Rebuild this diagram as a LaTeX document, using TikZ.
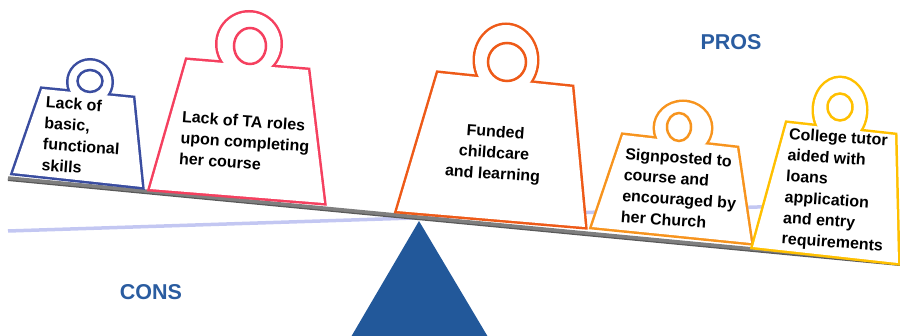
\documentclass[tikz,border=0pt]{standalone}
\usepackage{fontspec}
\setmainfont{Liberation Sans}
\definecolor{cA}{HTML}{3A4DA0}
\definecolor{cB}{HTML}{F5405F}
\definecolor{cC}{HTML}{EE5A18}
\definecolor{cD}{HTML}{F7941E}
\definecolor{cE}{HTML}{FFC000}
\definecolor{labelblue}{HTML}{2A5CA0}
\definecolor{tricol}{HTML}{22589A}
\definecolor{lav}{HTML}{C3C7F2}
\definecolor{beamgray}{HTML}{7F7F7F}
\begin{document}
\begin{tikzpicture}[x=1pt,y=-1pt,
  wbody/.style={line width=5pt, draw=#1, line join=miter},
  whole/.style={line width=2.5pt, draw=#1},
  wtext/.style={font=\bfseries\fontsize{16}{21}\selectfont, align=left, rotate=-4, inner sep=0pt},
  sidelabel/.style={font=\bfseries\fontsize{21.5}{24}\selectfont, text=labelblue, inner sep=0pt}]
\useasboundingbox (0,0) rectangle (900,336);
% faded level beam
\coordinate (ll) at (8,231);
\coordinate (lr) at (820,205);
\draw[lav, line width=3.5pt] (ll) -- (lr);
% fulcrum
\coordinate (apex) at (419,221);
\coordinate (bl) at (351,337);
\coordinate (br) at (488,337);
\fill[tricol] (apex) -- (bl) -- (br) -- cycle;
% tilted beam
\coordinate (bml) at (8,178);
\coordinate (bmr) at (900,263);
\draw[beamgray!70!black, line width=4pt] ([yshift=-1pt]bml) -- ([yshift=-1pt]bmr);
\draw[beamgray, line width=3.5pt] (bml) -- (bmr);
% weight 1
\draw[wbody=cA] (90,82) ellipse [x radius=21.5pt, y radius=21.5pt];
\draw[wbody=cA] (13,173) -- (42,89) -- (133,98) -- (142,187) -- cycle;
\fill[white] (13,173) -- (42,89) -- (133,98) -- (142,187) -- cycle;
\fill[white] (90,82) ellipse [x radius=21.5pt, y radius=21.5pt];
\draw[whole=cA] (90,81) ellipse [x radius=12.5pt, y radius=11pt];
% weight 2
\draw[wbody=cB] (249,44) ellipse [x radius=31.5pt, y radius=31.5pt];
\draw[wbody=cB] (150,189) -- (187,60) -- (308,70) -- (324,203) -- cycle;
\fill[white] (150,189) -- (187,60) -- (308,70) -- (324,203) -- cycle;
\fill[white] (249,44) ellipse [x radius=31.5pt, y radius=31.5pt];
\draw[whole=cB] (250,46) ellipse [x radius=16pt, y radius=18pt];
% weight 3
\draw[wbody=cC] (506,60) ellipse [x radius=31pt, y radius=35pt];
\draw[wbody=cC] (397,211) -- (438,73) -- (572,87) -- (585,227) -- cycle;
\fill[white] (397,211) -- (438,73) -- (572,87) -- (585,227) -- cycle;
\fill[white] (506,60) ellipse [x radius=31pt, y radius=35pt];
\draw[whole=cC] (507,62) ellipse [x radius=19pt, y radius=19pt];
% weight 4
\draw[wbody=cD] (683,128) ellipse [x radius=28pt, y radius=26pt];
\draw[wbody=cD] (592,227) -- (623,135) -- (737,148) -- (751,243) -- cycle;
\fill[white] (592,227) -- (623,135) -- (737,148) -- (751,243) -- cycle;
\fill[white] (683,128) ellipse [x radius=28pt, y radius=26pt];
\draw[whole=cD] (679,127) ellipse [x radius=12pt, y radius=14pt];
% weight 5
\draw[wbody=cE] (840,110) ellipse [x radius=26pt, y radius=32pt];
\draw[wbody=cE] (753,247) -- (787,123) -- (895,135) -- (898,263) -- cycle;
\fill[white] (753,247) -- (787,123) -- (895,135) -- (898,263) -- cycle;
\fill[white] (840,110) ellipse [x radius=26pt, y radius=32pt];
\draw[whole=cE] (840,107) ellipse [x radius=12.5pt, y radius=13.5pt];
% texts
\node[wtext] (t1) at (82,136) {Lack of\\basic,\\functional\\skills};
\node[wtext] (t2) at (245,142) {Lack of TA roles\\upon completing\\her course};
\node[wtext, align=center] (t3) at (494,154) {Funded\\childcare\\and learning};
\node[wtext] (t4) at (680,189) {Signposted to\\course and\\encouraged by\\her Church};
\node[wtext] (t5) at (836,191) {College tutor\\aided with\\loans\\application\\and entry\\requirements};
\node[sidelabel] (pros) at (731,42) {PROS};
\node[sidelabel] (cons) at (151,292) {CONS};
\end{tikzpicture}
\end{document}
